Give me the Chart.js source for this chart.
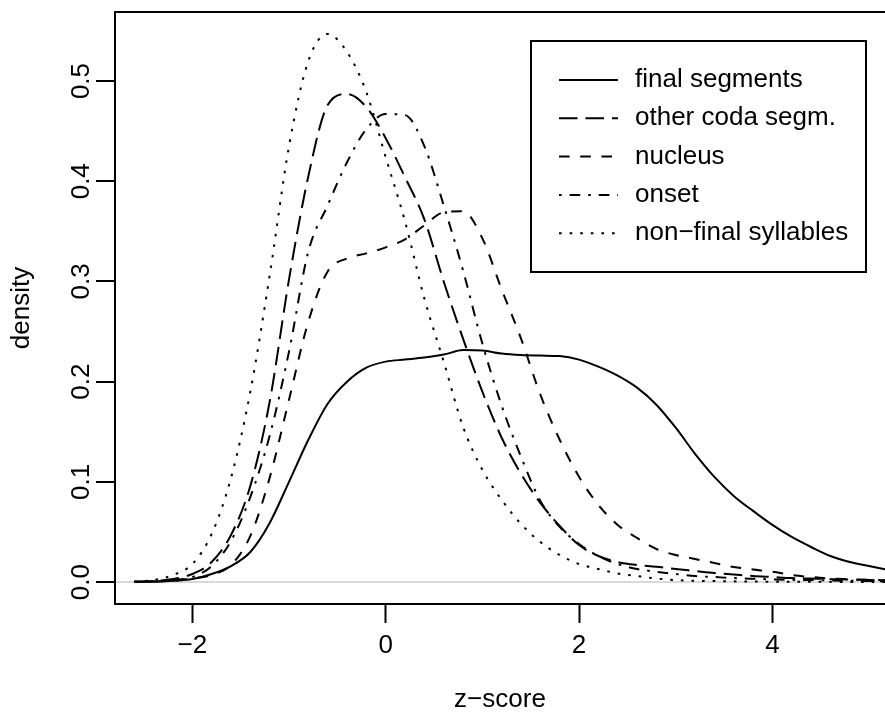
<!DOCTYPE html>
<html>
<head>
<meta charset="utf-8">
<title>density of z-scores</title>
<script src="https://cdn.jsdelivr.net/npm/chart.js@4.4.1/dist/chart.umd.min.js"></script>
<style>
  html, body { margin: 0; padding: 0; background: #fff; }
  #wrap { width: 885px; height: 713px; }
</style>
</head>
<body>
<div id="wrap"><canvas id="chart" width="885" height="713"></canvas></div>
<script>
(function () {
  "use strict";

  // z-score grid shared by the five density estimates
  const Z = [
    -2.6, -2.4, -2.2, -2.0, -1.8, -1.6, -1.4, -1.2, -1.0, -0.8,
    -0.6, -0.4, -0.2, 0.0, 0.2, 0.4, 0.6, 0.8, 1.0, 1.2,
    1.4, 1.6, 1.8, 2.0, 2.2, 2.4, 2.6, 2.8, 3.0, 3.2,
    3.4, 3.6, 3.8, 4.0, 4.2, 4.4, 4.6, 4.8, 5.0, 5.2,
  ];

  const FINAL_SEGMENTS = [
    0.0001, 0.0004, 0.0012, 0.003, 0.008, 0.016, 0.030, 0.059, 0.100, 0.142,
    0.178, 0.200, 0.214, 0.220, 0.222, 0.224, 0.227, 0.2315, 0.231, 0.228,
    0.2265, 0.226, 0.2255, 0.222, 0.215, 0.206, 0.194, 0.177, 0.154, 0.128,
    0.105, 0.086, 0.071, 0.057, 0.045, 0.035, 0.026, 0.020, 0.016, 0.012,
  ];

  const OTHER_CODA = [
    0.0003, 0.001, 0.003, 0.008, 0.020, 0.047, 0.096, 0.180, 0.302, 0.405,
    0.476, 0.487, 0.474, 0.443, 0.404, 0.362, 0.300, 0.243, 0.190, 0.144,
    0.108, 0.079, 0.056, 0.037, 0.026, 0.020, 0.017, 0.0153, 0.013, 0.011,
    0.009, 0.0075, 0.006, 0.005, 0.004, 0.0035, 0.003, 0.0025, 0.002, 0.0015,
  ];

  const NUCLEUS = [
    0.0002, 0.0006, 0.0015, 0.0035, 0.007, 0.017, 0.046, 0.104, 0.182, 0.260,
    0.310, 0.323, 0.328, 0.334, 0.342, 0.356, 0.369, 0.370, 0.343, 0.292,
    0.243, 0.187, 0.142, 0.105, 0.077, 0.057, 0.044, 0.033, 0.027, 0.023,
    0.019, 0.015, 0.0125, 0.0103, 0.007, 0.005, 0.0035, 0.0028, 0.0022, 0.0017,
  ];

  const ONSET = [
    0.0002, 0.0008, 0.002, 0.005, 0.016, 0.041, 0.085, 0.146, 0.230, 0.330,
    0.376, 0.419, 0.452, 0.467, 0.466, 0.435, 0.376, 0.311, 0.238, 0.176,
    0.125, 0.081, 0.055, 0.038, 0.026, 0.018, 0.013, 0.0103, 0.008, 0.006,
    0.005, 0.004, 0.0033, 0.0027, 0.0022, 0.002, 0.0016, 0.0013, 0.001, 0.0008,
  ];

  const NON_FINAL = [
    0.0005, 0.002, 0.007, 0.018, 0.048, 0.104, 0.190, 0.306, 0.435, 0.520,
    0.547, 0.529, 0.489, 0.424, 0.360, 0.283, 0.220, 0.155, 0.112, 0.082,
    0.058, 0.040, 0.027, 0.018, 0.013, 0.0085, 0.006, 0.0035, 0.002, 0.0013,
    0.001, 0.0007, 0.0005, 0.0004, 0.0003, 0.0002, 0.0002, 0.0001, 0.0001, 0.0001,
  ];

  const SERIES_LABELS = [
    "final segments",
    "other coda segm.",
    "nucleus",
    "onset",
    "non\u2212final syllables",
  ];

  const X_TICKS = [-2, 0, 2, 4];
  const Y_TICKS = [0, 0.1, 0.2, 0.3, 0.4, 0.5];

  const FONT = '"Liberation Sans", Arial, Helvetica, sans-serif';
  const U = 2.65; // R dash unit at this resolution

  // R lty: solid, longdash "73", dashed "44", dotdash "1343", dotted "13"
  const DASHES = [
    [],
    [7 * U, 3 * U],
    [4 * U, 4 * U],
    [1 * U, 3 * U, 4 * U, 3 * U],
    [1 * U, 3 * U],
  ];

  const SERIES = [FINAL_SEGMENTS, OTHER_CODA, NUCLEUS, ONSET, NON_FINAL];

  const datasets = SERIES.map((vals, i) => ({
    label: SERIES_LABELS[i],
    data: Z.map((z, k) => ({ x: z, y: vals[k] })),
    borderColor: "#000",
    borderWidth: 2,
    borderDash: DASHES[i],
    borderCapStyle: "butt",
    pointRadius: 0,
    cubicInterpolationMode: "monotone",
    fill: false,
  }));

  // box top edge, rotated y tick labels and the boxed legend, R style
  const rStylePlugin = {
    id: "rStyle",
    afterDraw(chart) {
      const { ctx, chartArea: a, scales } = chart;
      ctx.save();
      ctx.strokeStyle = "#000";
      ctx.lineWidth = 2;
      ctx.beginPath();
      ctx.moveTo(a.left - 1, a.top);
      ctx.lineTo(a.right, a.top);
      ctx.stroke();

      ctx.fillStyle = "#000";
      ctx.font = "26px " + FONT;
      ctx.textAlign = "center";
      ctx.textBaseline = "alphabetic";
      const ys = scales.y;
      ys.ticks.forEach((t) => {
        ctx.save();
        ctx.translate(89, ys.getPixelForValue(t.value));
        ctx.rotate(-Math.PI / 2);
        ctx.fillText(t.value.toFixed(1), 0, 0);
        ctx.restore();
      });

      // legend
      ctx.lineWidth = 2;
      ctx.strokeRect(531, 41, 335, 231);
      ctx.textAlign = "left";
      ctx.textBaseline = "middle";
      chart.data.datasets.forEach((ds, i) => {
        const y = 80 + i * 38.3;
        ctx.setLineDash(ds.borderDash);
        ctx.beginPath();
        ctx.moveTo(559, y);
        ctx.lineTo(618, y);
        ctx.stroke();
        ctx.setLineDash([]);
        ctx.fillText(ds.label, 635, y);
      });
      ctx.restore();
    },
  };

  const axisFont = { family: FONT, size: 26 };

  new Chart(document.getElementById("chart"), {
    type: "line",
    data: { datasets: datasets },
    plugins: [rStylePlugin],
    options: {
      responsive: false,
      animation: false,
      devicePixelRatio: 1,
      layout: { padding: { top: 12, right: 0, bottom: 0, left: 0 } },
      plugins: { legend: { display: false }, tooltip: { enabled: false } },
      scales: {
        x: {
          type: "linear",
          min: -2.8,
          max: 5.165,
          afterBuildTicks: (s) => { s.ticks = X_TICKS.map((v) => ({ value: v })); },
          afterFit: (s) => { s.height = 109; },
          grid: {
            drawOnChartArea: false,
            drawTicks: true,
            tickLength: 19,
            tickColor: "#000",
            tickWidth: 2,
          },
          border: { display: true, color: "#000", width: 2 },
          ticks: {
            font: axisFont,
            color: "#000",
            padding: 7,
            maxRotation: 0,
            autoSkip: false,
            callback: (v) => (v < 0 ? "\u2212" + Math.abs(v) : String(v)),
          },
          title: {
            display: true,
            text: "z\u2212score",
            font: axisFont,
            color: "#000",
            padding: { top: 0, bottom: -2 },
          },
        },
        y: {
          type: "linear",
          min: -0.0219,
          max: 0.5689,
          afterBuildTicks: (s) => { s.ticks = Y_TICKS.map((v) => ({ value: v })); },
          afterFit: (s) => { s.width = 115; },
          grid: {
            drawOnChartArea: true,
            drawTicks: true,
            tickLength: 19,
            lineWidth: 2,
            color: (c) => (c.tick && c.tick.value === 0 ? "#d9d9d9" : "rgba(0,0,0,0)"),
            tickColor: "#000",
            tickWidth: 2,
          },
          border: { display: true, color: "#000", width: 2 },
          ticks: { display: false },
          title: {
            display: true,
            text: "density",
            font: axisFont,
            color: "#000",
            padding: { top: 6, bottom: 0 },
          },
        },
      },
    },
  });
})();
</script>
</body>
</html>
